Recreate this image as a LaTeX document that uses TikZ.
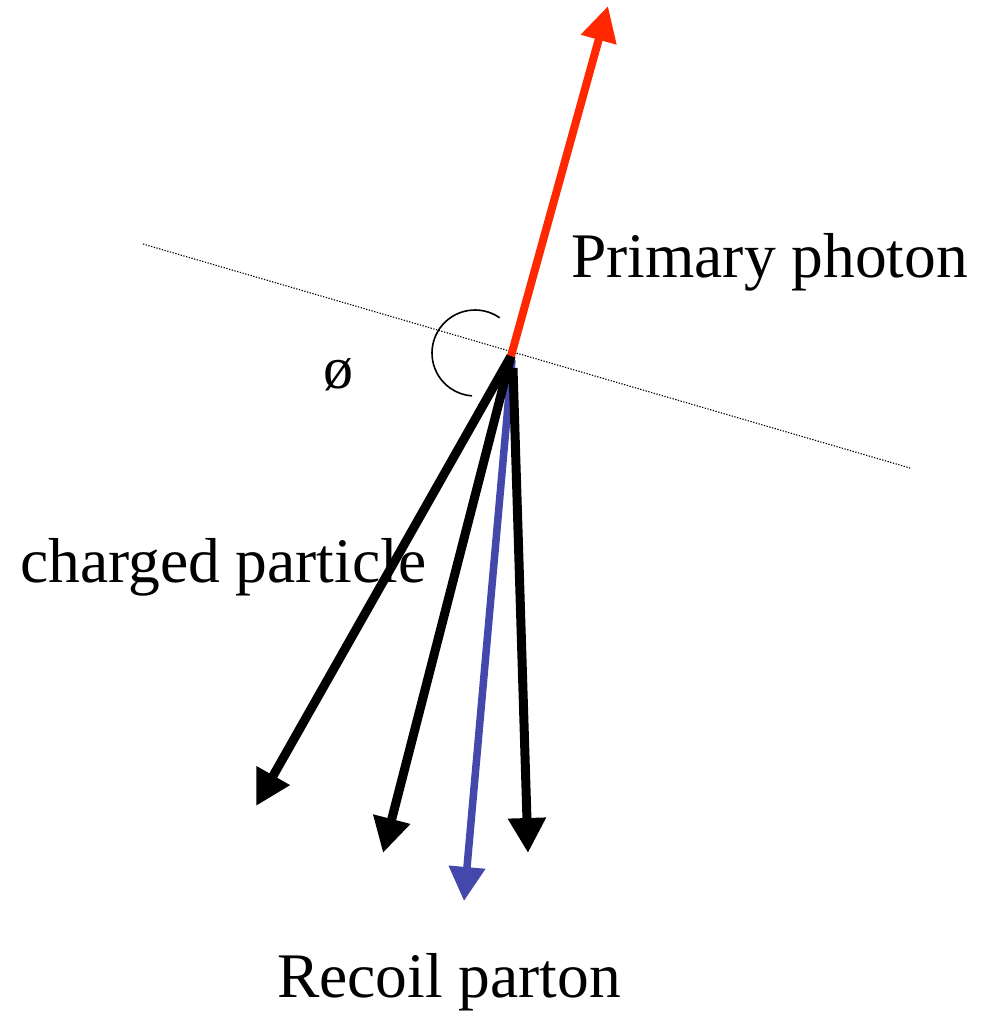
\documentclass[tikz,border=0pt]{standalone}
\usepackage{fontspec}
\setmainfont{Liberation Serif}
\usetikzlibrary{arrows.meta}
\definecolor{photonred}{RGB}{255,40,0}
\definecolor{partonblue}{RGB}{68,72,170}
\begin{document}
\begin{tikzpicture}[x=1pt,y=1pt,
  lbl/.style={anchor=base west,inner sep=0pt,font=\fontsize{63.5}{70}\selectfont},
  track/.style={line width=9pt,-{Triangle[length=35pt,width=36pt]}},
  photon/.style={line width=8pt,color=photonred,-{Triangle[length=35pt,width=35pt]}},
  parton/.style={line width=7.5pt,color=partonblue,-{Triangle[length=34pt,width=35pt]}},
  axisline/.style={line width=1.1pt,dash pattern=on 1.3pt off 1.5pt},
  anglearc/.style={line width=1.6pt}]
\useasboundingbox (0,0) rectangle (992,-1017);
% texts
\node[lbl] (tphoton) at (571,-277) {Primary photon};
\node[lbl] (tcharged) at (20,-582) {charged particle};
\node[lbl] (trecoil) at (277,-997) {Recoil parton};
\node[anchor=base west,inner sep=0pt,font=\fontsize{60}{66}\selectfont] (tphi) at (323,-388) {ø};
% coordinates
\coordinate (O) at (511,-356);
\coordinate (Ob) at (512,-360);
\coordinate (Oc) at (513,-368);
\coordinate (L1) at (143,-244);
\coordinate (L2) at (910,-468);
\coordinate (Tphoton) at (608,-6);
\coordinate (T1) at (256,-806);
\coordinate (T2) at (383,-853);
\coordinate (Tb) at (464,-901);
\coordinate (T3) at (528,-853);
% dotted axis
\draw[axisline] (L1) -- (L2);
% angle arc
\draw[anglearc] (475,-353) ++(55:43) arc[start angle=55,end angle=266,radius=43];
% arrows
\draw[parton] (Ob) -- (Tb);
\draw[track] (O) -- (T1);
\draw[track] (O) -- (T2);
\draw[track] (Oc) -- (T3);
\draw[photon] (O) -- (Tphoton);
\end{tikzpicture}
\end{document}
